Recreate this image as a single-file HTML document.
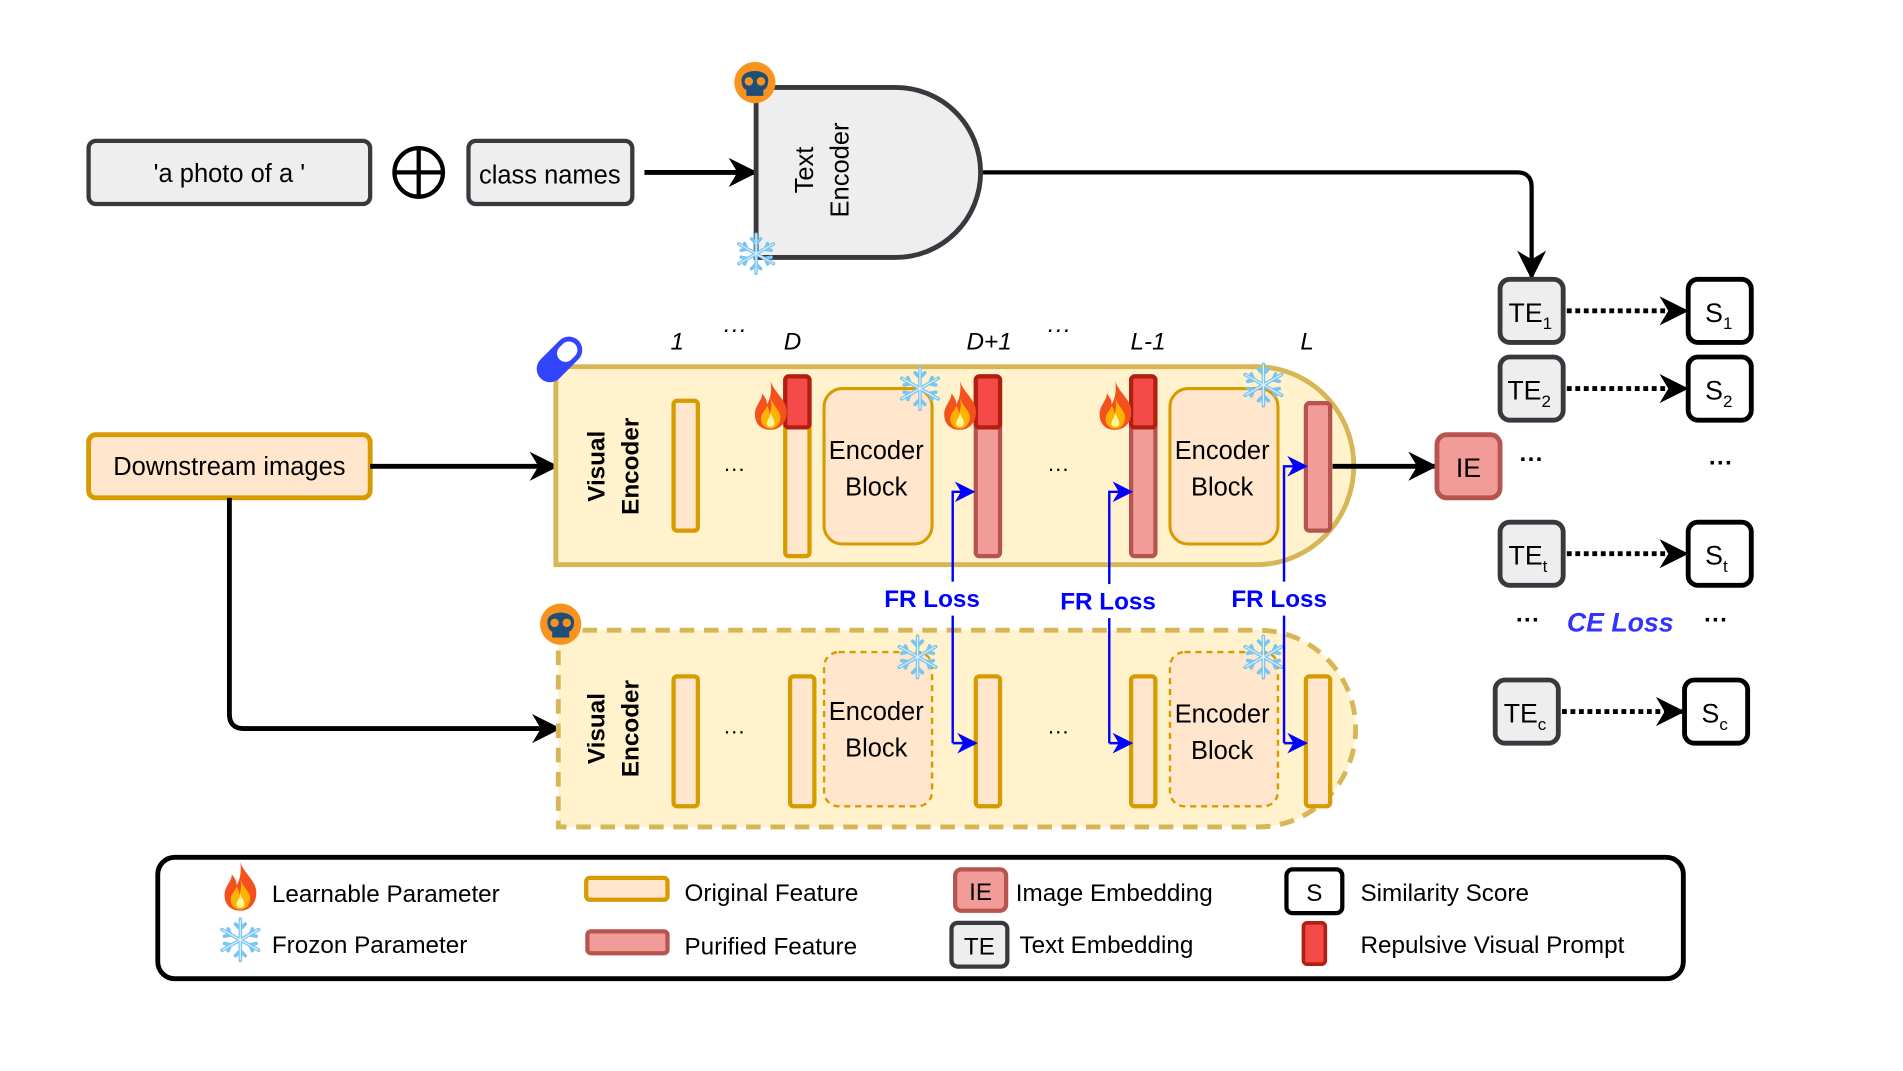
<!DOCTYPE html>
<html><head><meta charset="utf-8"><style>
html,body{margin:0;padding:0;background:#fff;}
svg{display:block;}
text{font-family:"Liberation Sans",sans-serif;}
</style></head><body>
<svg width="1903" height="1071" viewBox="0 0 1568 882" preserveAspectRatio="none" xmlns="http://www.w3.org/2000/svg">
<defs>
<marker id="ak" viewBox="0 0 10 10" refX="9" refY="5" markerWidth="24" markerHeight="24" orient="auto" markerUnits="userSpaceOnUse"><path d="M0,0 L10,5 L0,10 L3,5 Z" fill="#000"/></marker>
<marker id="ab" viewBox="0 0 10 10" refX="9" refY="5" markerWidth="17" markerHeight="17" orient="auto" markerUnits="userSpaceOnUse"><path d="M0,0 L10,5 L0,10 L3,5 Z" fill="#0000ff"/></marker>
<symbol id="fire" viewBox="0 0 30 40"><path d="M15,0 C18,10 30,16 28,28 C27,36 21,40 15,40 C8,40 2,36 2,27 C2,20 8,16 8,10 C11,14 12,16 12,19 C15,14 16,7 15,0Z" fill="#f4511e"/><path d="M15,14 C18,22 24,25 23,31 C22,37 18,39 15,39 C11,39 7,36 7,31 C7,26 11,24 12,20 C14,24 14,25 14,27 C16,23 16,18 15,14Z" fill="#ffb300"/><path d="M15,26 C17,31 19,33 18,36 C17,38 13,38 12,36 C11,33 14,31 15,26Z" fill="#fff59d"/></symbol>
<symbol id="snow" viewBox="-20 -20 40 40"><g stroke="#7cc4f0" stroke-width="3" stroke-linecap="round" fill="none"><path d="M0,-17 V17 M-15,-8.5 L15,8.5 M-15,8.5 L15,-8.5"/><path d="M-4,-13 L0,-9 L4,-13 M-4,13 L0,9 L4,13 M-13,-3 L-8,-4 L-10,-9 M13,3 L8,4 L10,9 M-13,3 L-8,4 L-10,9 M13,-3 L8,-4 L10,-9"/></g><g stroke="#d9f0ff" stroke-width="1" fill="none"><path d="M0,-17 V17 M-15,-8.5 L15,8.5 M-15,8.5 L15,-8.5"/></g></symbol>
<symbol id="skull" viewBox="-18 -18 36 36"><circle r="17" fill="#f7931e"/><path d="M-11,-2 C-11,-12 11,-12 11,-2 C11,4 8,6 7,6 V11 H-7 V6 C-8,6 -11,4 -11,-2Z" fill="#1f4e79"/><circle cx="-5" cy="-1" r="3.5" fill="#f7931e"/><circle cx="5" cy="-1" r="3.5" fill="#f7931e"/></symbol>
</defs>

<rect x="73" y="116" width="232" height="52" rx="6" fill="#eeeeee" stroke="#36393d" stroke-width="3.5"/>
<text x="189" y="150" font-size="21" text-anchor="middle">'a photo of a '</text>
<circle cx="345" cy="142" r="20" fill="none" stroke="#000" stroke-width="3.5"/>
<path d="M325,142 H365 M345,122 V162" stroke="#000" stroke-width="3.5"/>
<rect x="386" y="116" width="135" height="52" rx="6" fill="#eeeeee" stroke="#36393d" stroke-width="3.5"/>
<text x="453" y="151" font-size="21" text-anchor="middle">class names</text>
<line x1="531" y1="142" x2="622" y2="142" stroke="#000" stroke-width="4" marker-end="url(#ak)"/>
<path d="M623,72 H738 A70,70 0 0 1 738,212 H623 Z" fill="#eeeeee" stroke="#36393d" stroke-width="4"/>
<text transform="translate(670,140) rotate(-90)" font-size="21" text-anchor="middle">Text</text>
<text transform="translate(699,140) rotate(-90)" font-size="21" text-anchor="middle">Encoder</text>
<use href="#skull" x="604" y="50" width="36" height="36"/>
<use href="#snow" x="604" y="190" width="38" height="38"/>
<path d="M810,142 H1250 Q1262,142 1262,154 V228" fill="none" stroke="#000" stroke-width="3.5" marker-end="url(#ak)"/>

<g font-size="22">
<rect x="1236" y="230" width="52" height="52" rx="8" fill="#eeeeee" stroke="#36393d" stroke-width="4"/>
<text x="1243" y="265">TE<tspan font-size="14" dy="6">1</tspan></text>
<rect x="1236" y="294" width="52" height="52" rx="8" fill="#eeeeee" stroke="#36393d" stroke-width="4"/>
<text x="1242" y="329">TE<tspan font-size="14" dy="6">2</tspan></text>
<rect x="1236" y="430" width="52" height="52" rx="8" fill="#eeeeee" stroke="#36393d" stroke-width="4"/>
<text x="1243" y="465">TE<tspan font-size="14" dy="6">t</tspan></text>
<rect x="1232" y="560" width="52" height="52" rx="8" fill="#eeeeee" stroke="#36393d" stroke-width="4"/>
<text x="1239" y="595">TE<tspan font-size="14" dy="6">c</tspan></text>
<rect x="1391" y="230" width="52" height="52" rx="8" fill="#fff" stroke="#000" stroke-width="4"/>
<text x="1405" y="265">S<tspan font-size="14" dy="6">1</tspan></text>
<rect x="1391" y="294" width="52" height="52" rx="8" fill="#fff" stroke="#000" stroke-width="4"/>
<text x="1405" y="329">S<tspan font-size="14" dy="6">2</tspan></text>
<rect x="1391" y="430" width="52" height="52" rx="8" fill="#fff" stroke="#000" stroke-width="4"/>
<text x="1405" y="465">S<tspan font-size="14" dy="6">t</tspan></text>
<rect x="1388" y="560" width="52" height="52" rx="8" fill="#fff" stroke="#000" stroke-width="4"/>
<text x="1402" y="595">S<tspan font-size="14" dy="6">c</tspan></text>
</g>
<g stroke="#000" stroke-width="4" stroke-dasharray="4,3" fill="none">
<line x1="1291" y1="256" x2="1389" y2="256" marker-end="url(#ak)"/>
<line x1="1291" y1="320" x2="1389" y2="320" marker-end="url(#ak)"/>
<line x1="1291" y1="456" x2="1389" y2="456" marker-end="url(#ak)"/>
<line x1="1287" y1="586" x2="1386" y2="586" marker-end="url(#ak)"/>
</g>
<g font-size="20" font-weight="bold">
<text x="1262" y="385" text-anchor="middle">···</text>
<text x="1418" y="388" text-anchor="middle">···</text>
<text x="1259" y="517" text-anchor="middle">···</text>
<text x="1414" y="517" text-anchor="middle">···</text>
</g>
<text x="1335" y="520" font-size="22" font-weight="bold" font-style="italic" fill="#3333ff" text-anchor="middle">CE Loss</text>

<rect x="73" y="358" width="232" height="52" rx="6" fill="#ffe6cc" stroke="#d79b00" stroke-width="4"/>
<text x="189" y="391" font-size="21" text-anchor="middle">Downstream images</text>
<line x1="305" y1="384" x2="458" y2="384" stroke="#000" stroke-width="4" marker-end="url(#ak)"/>
<path d="M189,410 V588 Q189,600 201,600 H460" fill="none" stroke="#000" stroke-width="4" marker-end="url(#ak)"/>

<path d="M458,302 H1035 A80,81 0 0 1 1035,465 H458 Z" fill="#fff2cc" stroke="#d6b656" stroke-width="4"/>
<g transform="translate(461,296) rotate(45)"><rect x="-11" y="-22" width="22" height="44" rx="11" fill="#3344ff"/><rect x="-7" y="-18" width="14" height="18" rx="7" fill="#fff"/></g>
<text transform="translate(498,384) rotate(-90)" font-size="20" font-weight="bold" text-anchor="middle">Visual</text>
<text transform="translate(526,384) rotate(-90)" font-size="20" font-weight="bold" text-anchor="middle">Encoder</text>
<g font-size="20" font-style="italic">
<text x="558" y="288" text-anchor="middle">1</text>
<text x="605" y="278" text-anchor="middle">···</text>
<text x="653" y="288" text-anchor="middle">D</text>
<text x="815" y="288" text-anchor="middle">D+1</text>
<text x="872" y="278" text-anchor="middle">···</text>
<text x="946" y="288" text-anchor="middle">L-1</text>
<text x="1077" y="288" text-anchor="middle">L</text>
</g>
<rect x="555" y="330" width="20" height="107" rx="3" fill="#ffe6cc" stroke="#d79b00" stroke-width="3.5"/>
<text x="605" y="392" font-size="18" text-anchor="middle">···</text>
<rect x="647" y="310" width="20" height="148" rx="3" fill="#ffe6cc" stroke="#d79b00" stroke-width="3.5"/>
<rect x="647" y="310" width="20" height="42" rx="3" fill="#f44b48" stroke="#b21f10" stroke-width="3.5"/>
<rect x="679" y="320" width="89" height="128" rx="15" fill="#ffe6cc" stroke="#d79b00" stroke-width="2.5"/>
<text x="722" y="378" font-size="21" text-anchor="middle">Encoder</text>
<text x="722" y="408" font-size="21" text-anchor="middle">Block</text>
<rect x="804" y="310" width="20" height="148" rx="3" fill="#f19c99" stroke="#b85450" stroke-width="3.5"/>
<rect x="804" y="310" width="20" height="42" rx="3" fill="#f44b48" stroke="#b21f10" stroke-width="3.5"/>
<text x="872" y="392" font-size="18" text-anchor="middle">···</text>
<rect x="932" y="310" width="20" height="148" rx="3" fill="#f19c99" stroke="#b85450" stroke-width="3.5"/>
<rect x="932" y="310" width="20" height="42" rx="3" fill="#f44b48" stroke="#b21f10" stroke-width="3.5"/>
<rect x="964" y="320" width="89" height="128" rx="15" fill="#ffe6cc" stroke="#d79b00" stroke-width="2.5"/>
<text x="1007" y="378" font-size="21" text-anchor="middle">Encoder</text>
<text x="1007" y="408" font-size="21" text-anchor="middle">Block</text>
<rect x="1076" y="332" width="20" height="105" rx="3" fill="#f19c99" stroke="#b85450" stroke-width="3.5"/>
<use href="#fire" x="620" y="314" width="30" height="40"/>
<use href="#fire" x="776" y="314" width="30" height="40"/>
<use href="#fire" x="904" y="314" width="30" height="40"/>
<use href="#snow" x="738" y="300" width="40" height="40"/>
<use href="#snow" x="1021" y="297" width="40" height="40"/>
<line x1="1098" y1="384" x2="1182" y2="384" stroke="#000" stroke-width="4" marker-end="url(#ak)"/>
<rect x="1184" y="358" width="52" height="52" rx="8" fill="#f19c99" stroke="#b85450" stroke-width="4"/>
<text x="1210" y="393" font-size="22" text-anchor="middle">IE</text>

<path d="M460,519 H1037 A80,81 0 0 1 1037,681 H460 Z" fill="#fff2cc" stroke="#d6b656" stroke-width="4" stroke-dasharray="12,8"/>
<use href="#skull" x="444" y="496" width="36" height="36"/>
<text transform="translate(498,600) rotate(-90)" font-size="20" font-weight="bold" text-anchor="middle">Visual</text>
<text transform="translate(526,600) rotate(-90)" font-size="20" font-weight="bold" text-anchor="middle">Encoder</text>
<rect x="555" y="557" width="20" height="107" rx="3" fill="#ffe6cc" stroke="#d79b00" stroke-width="3.5"/>
<text x="605" y="608" font-size="18" text-anchor="middle">···</text>
<rect x="651" y="557" width="20" height="107" rx="3" fill="#ffe6cc" stroke="#d79b00" stroke-width="3.5"/>
<rect x="679" y="537" width="89" height="127" rx="12" fill="#ffe6cc" stroke="#d79b00" stroke-width="2" stroke-dasharray="5,4"/>
<text x="722" y="593" font-size="21" text-anchor="middle">Encoder</text>
<text x="722" y="623" font-size="21" text-anchor="middle">Block</text>
<rect x="804" y="557" width="20" height="107" rx="3" fill="#ffe6cc" stroke="#d79b00" stroke-width="3.5"/>
<text x="872" y="608" font-size="18" text-anchor="middle">···</text>
<rect x="932" y="557" width="20" height="107" rx="3" fill="#ffe6cc" stroke="#d79b00" stroke-width="3.5"/>
<rect x="964" y="537" width="89" height="127" rx="12" fill="#ffe6cc" stroke="#d79b00" stroke-width="2" stroke-dasharray="5,4"/>
<text x="1007" y="595" font-size="21" text-anchor="middle">Encoder</text>
<text x="1007" y="625" font-size="21" text-anchor="middle">Block</text>
<rect x="1076" y="557" width="20" height="107" rx="3" fill="#ffe6cc" stroke="#d79b00" stroke-width="3.5"/>
<use href="#snow" x="736" y="521" width="40" height="40"/>
<use href="#snow" x="1021" y="521" width="40" height="40"/>

<g stroke="#0000ff" stroke-width="2" fill="none">
<path d="M785,612 V405 H802" marker-end="url(#ab)"/>
<path d="M785,612 H804" marker-end="url(#ab)"/>
<path d="M914,612 V405 H932" marker-end="url(#ab)"/>
<path d="M914,612 H932" marker-end="url(#ab)"/>
<path d="M1058,612 V384 H1076" marker-end="url(#ab)"/>
<path d="M1058,612 H1076" marker-end="url(#ab)"/>
</g>
<g font-size="20" font-weight="bold" fill="#0000ff" text-anchor="middle">
<rect x="728" y="479" width="80" height="28" fill="#fff"/><text x="768" y="500">FR Loss</text>
<rect x="873" y="481" width="80" height="28" fill="#fff"/><text x="913" y="502">FR Loss</text>
<rect x="1014" y="479" width="80" height="28" fill="#fff"/><text x="1054" y="500">FR Loss</text>
</g>

<rect x="130" y="706" width="1257" height="100" rx="14" fill="#fff" stroke="#000" stroke-width="4"/>
<use href="#fire" x="183" y="710" width="30" height="40"/>
<use href="#snow" x="178" y="754" width="40" height="40"/>
<g font-size="20">
<text x="224" y="743">Learnable Parameter</text>
<text x="224" y="785">Frozon Parameter</text>
<text x="564" y="742">Original Feature</text>
<text x="564" y="786">Purified Feature</text>
<text x="837" y="742">Image Embedding</text>
<text x="840" y="785">Text Embedding</text>
<text x="1121" y="742">Similarity Score</text>
<text x="1121" y="785">Repulsive Visual Prompt</text>
</g>
<rect x="483" y="723" width="67" height="18" rx="3" fill="#ffe6cc" stroke="#d79b00" stroke-width="3.5"/>
<rect x="484" y="767" width="66" height="18" rx="3" fill="#f19c99" stroke="#b85450" stroke-width="3.5"/>
<rect x="787" y="716" width="42" height="34" rx="5" fill="#f19c99" stroke="#b85450" stroke-width="3.5"/>
<text x="808" y="741" font-size="20" text-anchor="middle">IE</text>
<rect x="784" y="760" width="46" height="36" rx="5" fill="#eeeeee" stroke="#36393d" stroke-width="3.5"/>
<text x="807" y="786" font-size="20" text-anchor="middle">TE</text>
<rect x="1060" y="716" width="46" height="36" rx="5" fill="#fff" stroke="#000" stroke-width="3.5"/>
<text x="1083" y="742" font-size="20" text-anchor="middle">S</text>
<rect x="1074" y="760" width="18" height="34" rx="3" fill="#f44b48" stroke="#b21f10" stroke-width="3"/>
</svg>
</body></html>
